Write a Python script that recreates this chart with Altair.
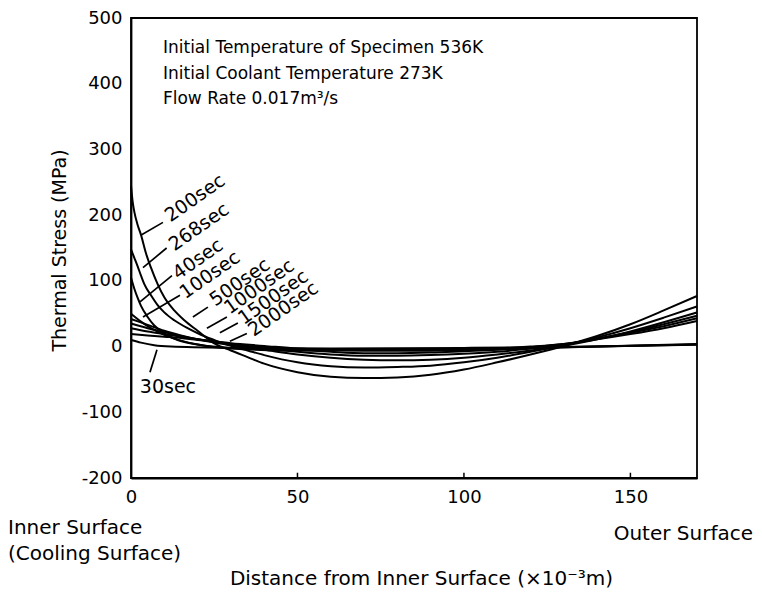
import altair as alt
import pandas as pd

# ---- curve data (distance x 1e-3 m, thermal stress MPa) ----
x_200 = [0, 0.5, 1, 2, 3, 4.5, 6, 8, 10, 13, 16, 20, 25, 30, 35, 40, 50, 60, 70, 80, 90, 100, 110, 120, 130, 140, 150, 160, 170]
y_200 = [245, 220, 205, 185, 170, 142, 120, 95, 75, 55, 40, 24, 5, -6, -16, -26, -39, -46, -48, -47, -43, -35, -24, -12, 1, 16, 34, 55, 77]

x_268 = [0, 1, 2, 3, 4, 6, 8, 10, 13, 17, 21, 26, 30, 35, 40, 50, 60, 70, 80, 90, 100, 110, 120, 130, 140, 150, 160, 170]
y_268 = [148, 135, 122, 108, 95, 78, 63, 52, 40, 28, 18, 8, 1, -6, -13, -24, -30, -32, -31, -29, -24, -17, -8, 2, 14, 28, 44, 61]

x_40 = [0, 1, 2, 3, 5, 7, 10, 14, 20, 30, 50, 80, 110, 140, 170]
y_40 = [105, 88, 74, 62, 45, 32, 20, 10, 3, -2, -4, -5, -3, 0, 3]

x_100 = [0, 3, 6, 10, 15, 20, 30, 50, 80, 110, 140, 170]
y_100 = [50, 38, 28, 18, 9, 3, -3, -6, -6, -4, 0, 4]

x_500 = [0, 5, 10, 15, 20, 25, 30, 40, 50, 60, 70, 80, 90, 100, 110, 120, 130, 140, 150, 160, 170]
y_500 = [42, 33, 24, 17, 11, 6, 2, -5, -12, -17, -20, -21, -20, -17, -12, -6, 1, 11, 23, 37, 52]

x_1000 = [0, 5, 10, 15, 20, 25, 30, 40, 50, 60, 70, 80, 90, 100, 110, 120, 130, 140, 150, 160, 170]
y_1000 = [35, 28, 22, 16, 11, 7, 3, -3, -8, -12, -14, -14, -13, -11, -8, -3, 3, 12, 22, 34, 47]

x_1500 = [0, 5, 10, 15, 20, 25, 30, 40, 50, 60, 70, 80, 90, 100, 110, 120, 130, 140, 150, 160, 170]
y_1500 = [28, 23, 19, 15, 11, 8, 4, -1, -5, -8, -10, -10, -9, -7, -5, -1, 4, 12, 21, 31, 43]

x_2000 = [0, 5, 10, 15, 20, 25, 30, 40, 50, 60, 70, 80, 90, 100, 110, 120, 130, 140, 150, 160, 170]
y_2000 = [19, 17, 15, 13, 10, 8, 5, 1, -3, -5, -6, -6, -6, -5, -3, 0, 4, 11, 19, 28, 39]

x_30 = [0, 3, 7, 12, 30, 60, 100, 140, 170]
y_30 = [10, 6, 2, 0, -2, -3, -2, 0, 3]

curves = {
    "200sec": (x_200, y_200), "268sec": (x_268, y_268), "40sec": (x_40, y_40),
    "100sec": (x_100, y_100), "500sec": (x_500, y_500), "1000sec": (x_1000, y_1000),
    "1500sec": (x_1500, y_1500), "2000sec": (x_2000, y_2000), "30sec": (x_30, y_30),
}

# ---- curve labels (rotated) and leader lines ----
lab_text = ["200sec", "268sec", "40sec", "100sec", "500sec", "1000sec", "1500sec", "2000sec"]
lab_x = [19.2, 20.4, 20.1, 23.7, 32.7, 38.5, 42.7, 45.7]
lab_y = [226, 182, 133, 109, 98, 91, 75, 57]

lead_x1 = [9.6, 10.7, 12.3, 14.7, 23.1, 28.8, 32.1, 34.8, 5.7]
lead_y1 = [189, 150, 108, 78, 60, 45, 36, 20, -39]
lead_x2 = [3.2, 3.6, 2.7, 3.6, 18.6, 22.8, 26.7, 29.7, 7.8]
lead_y2 = [170, 120, 68, 45, 45, 28, 21, 8, -5]

lab30_text = ["30sec"]
lab30_x = [11.1]
lab30_y = [-61]

# ---- header annotations ----
note_text = ["Initial Temperature of Specimen 536K",
             "Initial Coolant Temperature 273K",
             "Flow Rate 0.017m\u00b3/s"]
note_x = [9.6, 9.6, 9.6]
note_y = [454, 415, 376]

tick_vals = [50, 100, 150]

FONT = "DejaVu Sans"

rows = []
for name, (xs, ys) in curves.items():
    for a, b in zip(xs, ys):
        rows.append({"curve": name, "x": a, "y": b})
df = pd.DataFrame(rows)

xsc = alt.Scale(domain=[0, 170], nice=False, zero=False)
ysc = alt.Scale(domain=[-200, 500], nice=False, zero=False)

lines = alt.Chart(df).mark_line(color="black", strokeWidth=2, interpolate="monotone").encode(
    x=alt.X("x:Q", scale=xsc, axis=alt.Axis(
        values=[0, 50, 100, 150], labelFontSize=18, labelPadding=10, tickSize=0,
        labelFlush=False, labelExpr="'' + datum.value",
        grid=False, labelColor="black", domainColor="black", domainWidth=1.8,
        title="Distance from Inner Surface (\u00d710\u207b\u00b3m)", titleFontSize=20,
        titleFontWeight="normal", titleColor="black", titleX=290, titleY=100,
        titleBaseline="middle", titleAlign="center", labelFont=FONT, titleFont=FONT)),
    y=alt.Y("y:Q", scale=ysc, axis=alt.Axis(
        values=[-200, -100, 0, 100, 200, 300, 400, 500], labelFontSize=18, labelPadding=9,
        labelFlush=False, labelExpr="'' + datum.value",
        tickSize=0, grid=False, labelColor="black", domainColor="black", domainWidth=1.8,
        title="Thermal Stress (MPa)", titleFontSize=19, titleFontWeight="normal",
        titleColor="black", titleX=-72, titleY=232, titleAngle=270, titleBaseline="middle",
        titleAlign="center", labelFont=FONT, titleFont=FONT)),
    detail="curve:N",
)

lab_df = pd.DataFrame({"t": lab_text, "x": lab_x, "y": lab_y})
labels = alt.Chart(lab_df).mark_text(angle=325, fontSize=19, font=FONT, color="black",
                                     align="center", baseline="middle").encode(
    x=alt.X("x:Q", scale=xsc), y=alt.Y("y:Q", scale=ysc), text="t:N")

lab30_df = pd.DataFrame({"t": lab30_text, "x": lab30_x, "y": lab30_y})
label30 = alt.Chart(lab30_df).mark_text(fontSize=19, font=FONT, color="black",
                                        align="center", baseline="middle").encode(
    x=alt.X("x:Q", scale=xsc), y=alt.Y("y:Q", scale=ysc), text="t:N")

lead_df = pd.DataFrame({"x": lead_x1, "y": lead_y1, "x2": lead_x2, "y2": lead_y2})
leaders = alt.Chart(lead_df).mark_rule(color="black", strokeWidth=1.7).encode(
    x=alt.X("x:Q", scale=xsc), y=alt.Y("y:Q", scale=ysc), x2="x2:Q", y2="y2:Q")

note_df = pd.DataFrame({"t": note_text, "x": note_x, "y": note_y})
notes = alt.Chart(note_df).mark_text(fontSize=17, font=FONT, color="black",
                                     align="left", baseline="middle").encode(
    x=alt.X("x:Q", scale=xsc), y=alt.Y("y:Q", scale=ysc), text="t:N")

tick_df = pd.DataFrame({"x": tick_vals, "y": [-200] * 3, "y2": [-192] * 3})
ticks = alt.Chart(tick_df).mark_rule(color="black", strokeWidth=1.5).encode(
    x=alt.X("x:Q", scale=xsc), y=alt.Y("y:Q", scale=ysc), y2="y2:Q")

inner = alt.Chart(pd.DataFrame({"t": ["Inner Surface"], "x": [0]})).mark_text(
    fontSize=20, font=FONT, color="black", align="left", baseline="middle", dx=-123).encode(
    x=alt.X("x:Q", scale=xsc), y=alt.value(510), text="t:N")
cooling = alt.Chart(pd.DataFrame({"t": ["(Cooling Surface)"], "x": [0]})).mark_text(
    fontSize=20, font=FONT, color="black", align="left", baseline="middle", dx=-123).encode(
    x=alt.X("x:Q", scale=xsc), y=alt.value(536), text="t:N")
outer = alt.Chart(pd.DataFrame({"t": ["Outer Surface"], "x": [170]})).mark_text(
    fontSize=20, font=FONT, color="black", align="right", baseline="middle", dx=56).encode(
    x=alt.X("x:Q", scale=xsc), y=alt.value(516), text="t:N")

chart = alt.layer(lines, leaders, labels, label30, notes, ticks, inner, cooling, outer).properties(
    width=566, height=460,
    autosize=alt.AutoSizeParams(type="none"),
    padding={"left": 123, "top": 10, "right": 57, "bottom": 111},
    background="white",
).configure_view(stroke="black", strokeWidth=1.8)

chart.save("out.html", embed_options={"renderer": "svg", "actions": False})
